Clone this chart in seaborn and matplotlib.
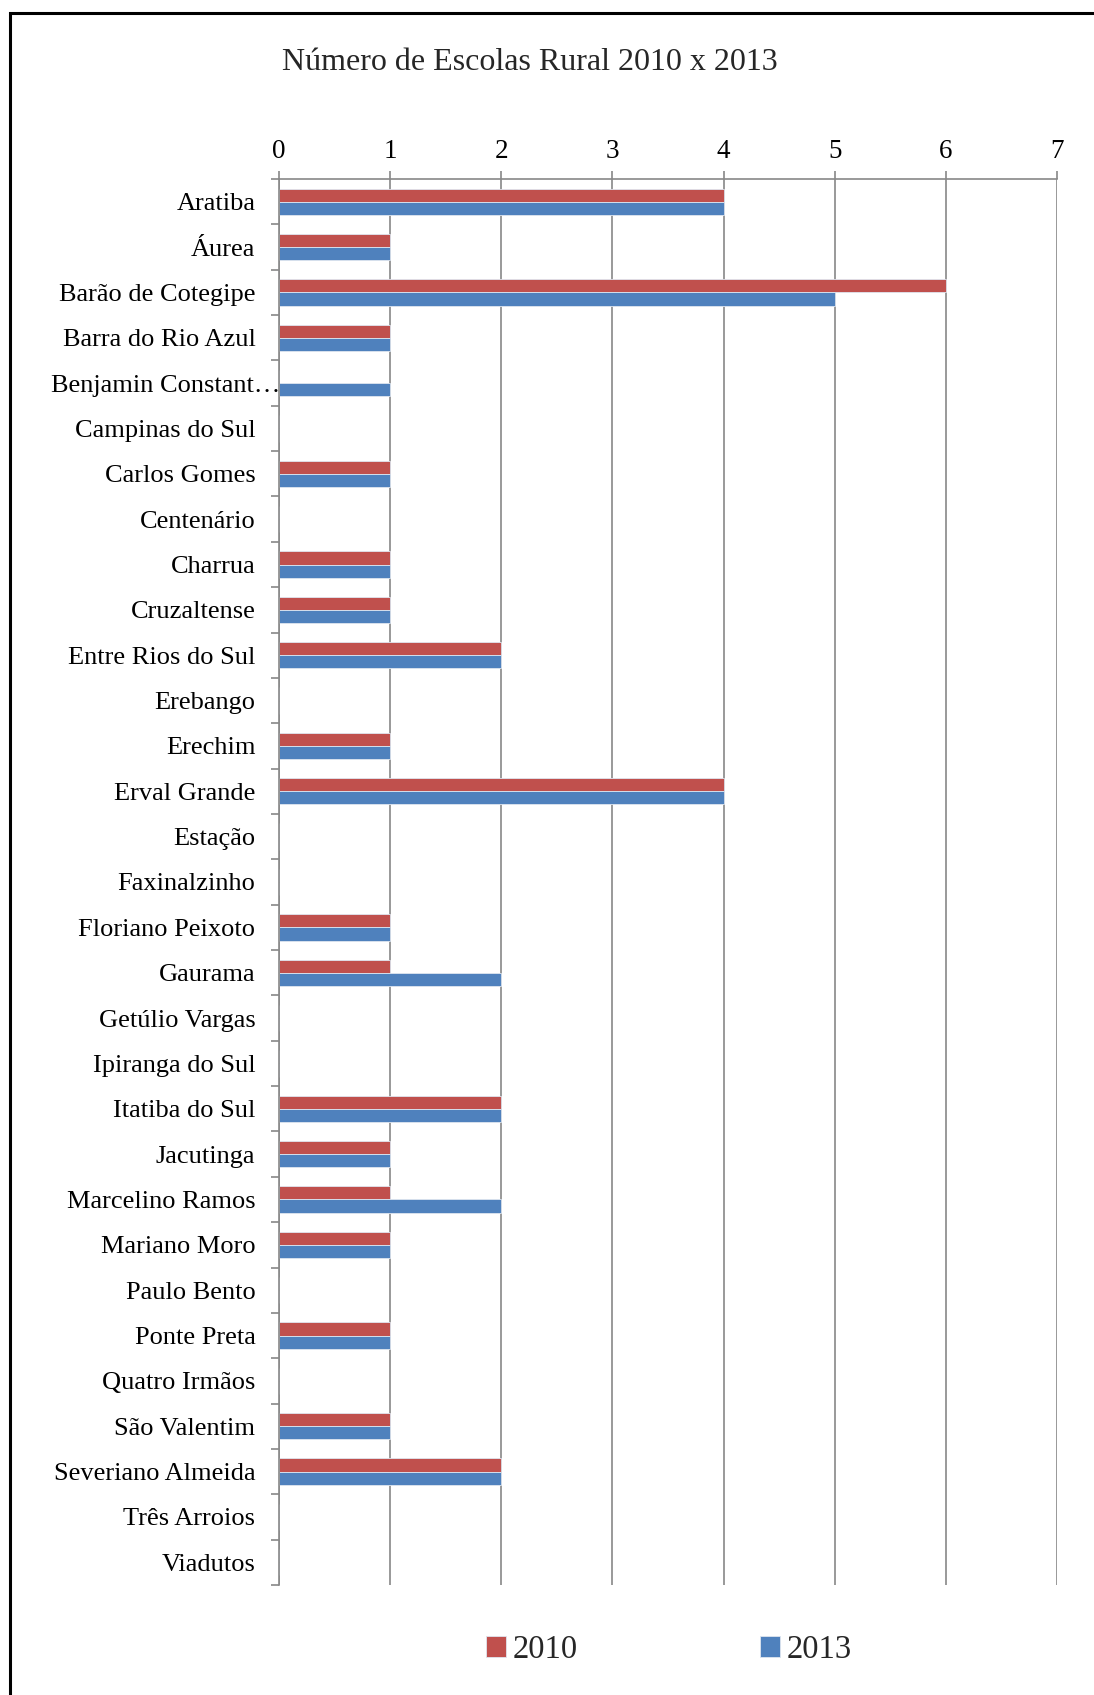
import matplotlib
matplotlib.use("Agg")
import matplotlib.pyplot as plt
import matplotlib.transforms as mtransforms
from matplotlib.patches import Rectangle
import seaborn as sns
import pandas as pd
import numpy as np

categories = ["Aratiba", "Áurea", "Barão de Cotegipe", "Barra do Rio Azul",
              "Benjamin Constant…", "Campinas do Sul", "Carlos Gomes", "Centenário",
              "Charrua", "Cruzaltense", "Entre Rios do Sul", "Erebango", "Erechim",
              "Erval Grande", "Estação", "Faxinalzinho", "Floriano Peixoto", "Gaurama",
              "Getúlio Vargas", "Ipiranga do Sul", "Itatiba do Sul", "Jacutinga",
              "Marcelino Ramos", "Mariano Moro", "Paulo Bento", "Ponte Preta",
              "Quatro Irmãos", "São Valentim", "Severiano Almeida", "Três Arroios",
              "Viadutos"]
values_2010 = [4, 1, 6, 1, 0, 0, 1, 0, 1, 1, 2, 0, 1, 4, 0, 0, 1, 1, 0, 0, 2, 1, 1, 1, 0, 1, 0, 1, 2, 0, 0]
values_2013 = [4, 1, 5, 1, 1, 0, 1, 0, 1, 1, 2, 0, 1, 4, 0, 0, 1, 2, 0, 0, 2, 1, 2, 1, 0, 1, 0, 1, 2, 0, 0]
series = ["2010", "2013"]
x_ticks = [0, 1, 2, 3, 4, 5, 6, 7]
title = "Número de Escolas Rural 2010 x 2013"

df = pd.DataFrame({
    "Municipio": categories * 2,
    "Valor": values_2010 + values_2013,
    "Ano": [series[0]] * len(categories) + [series[1]] * len(categories),
})

sns.set_theme(style="white")
plt.rcParams['font.family'] = ['Liberation Serif', 'DejaVu Serif']

fig = plt.figure(figsize=(10.94, 16.95), dpi=100)
ax = fig.add_axes([279/1094, 1 - 1585/1695, (1057 - 279)/1094, (1585 - 179)/1695])

sns.barplot(data=df, y="Municipio", x="Valor", hue="Ano", order=categories,
            hue_order=series, palette=["#C0504D", "#4F81BD"], orient="h",
            width=0.58, dodge=True, ax=ax, legend=True, saturation=1,
            edgecolor="#dfe6f0", linewidth=0.6)

ax.set_xlim(0, 7)
ax.set_ylim(len(categories) - 0.5, -0.5)
ax.set_xticks(x_ticks)
ax.xaxis.tick_top()
ax.tick_params(axis="x", top=True, bottom=False, length=6, width=1.2,
               color="#888888", pad=5, labelsize=19.5, labelcolor="black")
ax.set_xlabel("")
ax.set_ylabel("")
ax.tick_params(axis="y", which="major", length=0, pad=17, labelsize=19, labelcolor="black")
ax.set_yticks(np.arange(-0.5, len(categories), 1.0), minor=True)
ax.tick_params(axis="y", which="minor", left=True, length=6, width=1.2, color="#888888")
ax.grid(axis="x", color="#888888", linewidth=1.2)
ax.set_axisbelow(True)
for side in ["right", "bottom"]:
    ax.spines[side].set_visible(False)
for side in ["top", "left"]:
    ax.spines[side].set_color("#888888")
    ax.spines[side].set_linewidth(1.2)

# shift the truncated label slightly right as in the original
for lbl in ax.get_yticklabels():
    if lbl.get_text().startswith("Benjamin"):
        lbl.set_transform(lbl.get_transform() +
                          mtransforms.ScaledTranslation(0.25, 0, fig.dpi_scale_trans))

leg = ax.legend(loc="center", bbox_to_anchor=(669/1094, (1695 - 1650) / 1695),
                bbox_transform=fig.transFigure, ncol=2, frameon=False,
                fontsize=23.5, handlelength=0.6, handleheight=0.6,
                handletextpad=0.2, columnspacing=5.6)

fig.text(530/1094, 1 - 63/1695, title, ha="center", va="center", fontsize=23)

frame = Rectangle((10/1094, -0.05), 1.2, 1 - 13/1695 + 0.05, transform=fig.transFigure,
                  fill=False, edgecolor="black", linewidth=2.2, clip_on=False)
fig.patches.append(frame)

fig.savefig("out.png", dpi=100)
